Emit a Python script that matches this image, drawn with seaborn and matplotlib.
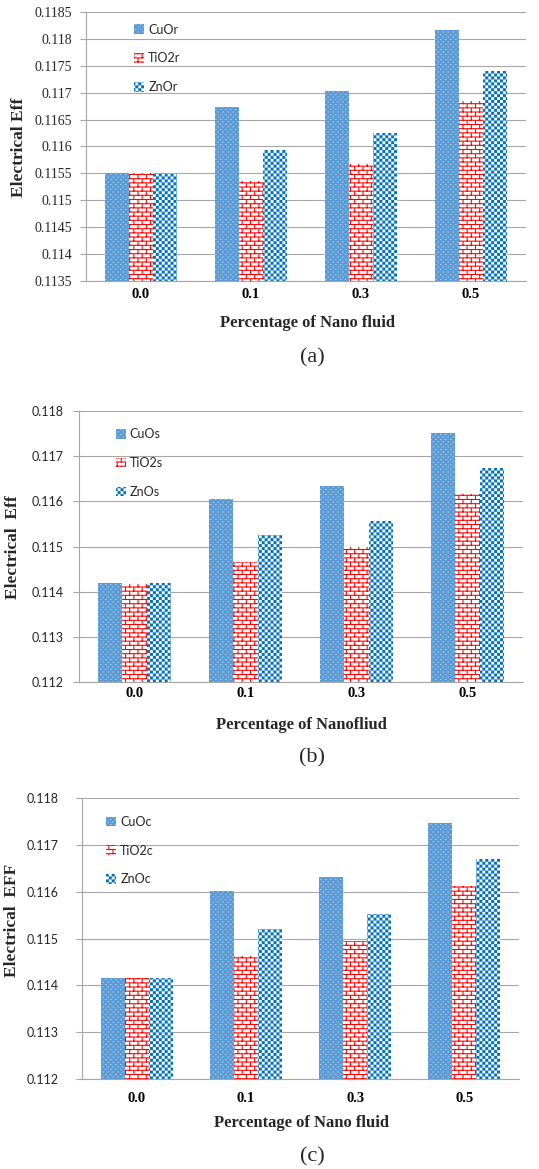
import matplotlib
matplotlib.use("Agg")
import matplotlib.pyplot as plt
import matplotlib.hatch as mhatch
from matplotlib.path import Path
import numpy as np
import pandas as pd
import seaborn as sns

# ---- data ----
categories = ["0.0", "0.1", "0.3", "0.5"]

cuo_r = [0.11550, 0.11674, 0.11704, 0.11817]
tio2_r = [0.11550, 0.11536, 0.11567, 0.11684]
zno_r = [0.11550, 0.11593, 0.11625, 0.11741]

cuo_s = [0.11420, 0.11605, 0.11635, 0.11751]
tio2_s = [0.11418, 0.11466, 0.11499, 0.11616]
zno_s = [0.11420, 0.11526, 0.11556, 0.11674]

cuo_c = [0.11415, 0.11602, 0.11631, 0.11747]
tio2_c = [0.11415, 0.11463, 0.11494, 0.11612]
zno_c = [0.11416, 0.11521, 0.11553, 0.11670]

labels_r = ["CuOr", "TiO2r", "ZnOr"]
labels_s = ["CuOs", "TiO2s", "ZnOs"]
labels_c = ["CuOc", "TiO2c", "ZnOc"]

yticks_a = [0.1135, 0.114, 0.1145, 0.115, 0.1155, 0.116, 0.1165, 0.117, 0.1175, 0.118, 0.1185]
ytick_labels_a = ["0.1135", "0.114", "0.1145", "0.115", "0.1155", "0.116",
                  "0.1165", "0.117", "0.1175", "0.118", "0.1185"]
yticks_bc = [0.112, 0.113, 0.114, 0.115, 0.116, 0.117, 0.118]
ytick_labels_bc = ["0.112", "0.113", "0.114", "0.115", "0.116", "0.117", "0.118"]


# ---- Excel-like fill patterns as custom hatches ----
def rect_hatch(char, rects):
    rects = np.asarray(rects, dtype=float)

    class RectHatch(mhatch.HatchPatternBase):
        def __init__(self, hatch, density):
            self.num_vertices = 5 * len(rects) if char in hatch else 0

        def set_vertices_and_codes(self, vertices, codes):
            x, y, w, h = rects.T
            pts = np.stack([np.c_[x, y], np.c_[x + w, y], np.c_[x + w, y + h],
                            np.c_[x, y + h], np.c_[x, y]], axis=1)
            vertices[:] = pts.reshape(-1, 2)
            codes[:] = np.tile([Path.MOVETO, Path.LINETO, Path.LINETO,
                                Path.LINETO, Path.CLOSEPOLY], len(rects))
    return RectHatch


px = 0.01  # one pixel of the 100 px hatch tile
n = 34
checker = [(i / n, j / n, 1 / n, 1 / n) for i in range(n) for j in range(n) if (i + j) % 2 == 0]
rows, k = 24, 12
bricks = [(0, r / rows, 1, px) for r in range(rows)]
bricks += [(c / k + (0.5 / k if r % 2 else 0), r / rows, px, 1 / rows)
           for r in range(rows) for c in range(k)]
dots = [(c / 20 + (0.025 if r % 2 else 0), r / 40, 1.5 * px, px)
        for r in range(40) for c in range(20)]

mhatch._hatch_types[:] = [mhatch.HorizontalHatch, mhatch.VerticalHatch,
                          mhatch.NorthEastHatch, mhatch.SouthEastHatch,
                          rect_hatch(".", dots), rect_hatch("O", checker),
                          rect_hatch("*", bricks)]

face_colors = ["#5B9BD5", "white", "white"]
hatch_colors = ["#A9CBEC", "#FF0000", "#0070C0"]
hatches = [".", "*", "O"]

sns.set_theme(style="white")
plt.rcParams["hatch.linewidth"] = 0.05
serif = ["Liberation Serif", "DejaVu Serif"]
sans = ["Lato", "DejaVu Sans"]
grid_c = "#A6A6A6"

W, H = 539, 1169
fig = plt.figure(figsize=(W / 100, H / 100), dpi=100)
fig.patch.set_facecolor("white")

panels = [
    dict(vals=[cuo_r, tio2_r, zno_r], labels=labels_r, box=(86, 12, 526, 281),
         yticks=yticks_a, yticklabels=ytick_labels_a, yfont=serif, ysize=10, ypad=6,
         xpad=5, ylabel="Electrical Eff", ylab_xy=(19, 147),
         xlabel="Percentage of Nano fluid", xlab_xy=(307, 323),
         caption="(a)", cap_xy=(312, 358), leg=(0.11, 0.957)),
    dict(vals=[cuo_s, tio2_s, zno_s], labels=labels_s, box=(79, 411, 523, 682),
         yticks=yticks_bc, yticklabels=ytick_labels_bc, yfont=sans, ysize=9, ypad=7,
         xpad=3.5, ylabel="Electrical  Eff", ylab_xy=(13, 547),
         xlabel="Percentage of Nanofliud", xlab_xy=(301, 725),
         caption="(b)", cap_xy=(312, 758), leg=(0.083, 0.937)),
    dict(vals=[cuo_c, tio2_c, zno_c], labels=labels_c, box=(82, 798, 519, 1079),
         yticks=yticks_bc, yticklabels=ytick_labels_bc, yfont=sans, ysize=9, ypad=13,
         xpad=9, ylabel="Electrical  EFF", ylab_xy=(12, 920),
         xlabel="Percentage of Nano fluid", xlab_xy=(301, 1123),
         caption="(c)", cap_xy=(312, 1157), leg=(0.056, 0.937)),
]

for p in panels:
    l, t, r, b = p["box"]
    ax = fig.add_axes([l / W, 1 - b / H, (r - l) / W, (b - t) / H])

    df = pd.DataFrame({
        "pct": categories * 3,
        "eff": [v for s in p["vals"] for v in s],
        "series": [lab for lab in p["labels"] for _ in categories],
    })
    sns.barplot(data=df, x="pct", y="eff", hue="series", order=categories,
                hue_order=p["labels"], palette=face_colors, saturation=1,
                width=0.66, gap=0, linewidth=0, legend=False, ax=ax)

    for cont, fc, hc, hp in zip(ax.containers, face_colors, hatch_colors, hatches):
        for bar in cont:
            bar.set_facecolor(fc)
            bar.set_edgecolor(hc)
            bar.set_hatch(hp)
            bar.set_linewidth(0)

    ax.set_ylim(p["yticks"][0], p["yticks"][-1])
    ax.set_xlim(-0.5, 3.5)
    ax.set_yticks(p["yticks"])
    ax.set_yticklabels(p["yticklabels"], family=p["yfont"], fontsize=p["ysize"], color="#262626")
    ax.set_xticks(range(len(categories)))
    ax.set_xticklabels(categories, family=serif, fontsize=10.5, fontweight="bold", color="black")
    ax.tick_params(axis="y", length=4, width=0.8, color=grid_c, pad=p["ypad"], left=True)
    ax.tick_params(axis="x", length=0, pad=p["xpad"])
    ax.set_xlabel("")
    ax.set_ylabel("")

    ax.yaxis.grid(True, color=grid_c, linewidth=0.8)
    ax.set_axisbelow(True)
    for side in ["top", "right"]:
        ax.spines[side].set_visible(False)
    for side in ["left", "bottom"]:
        ax.spines[side].set_color(grid_c)
        ax.spines[side].set_linewidth(0.8)

    ax.legend(ax.containers, p["labels"], loc="upper left", bbox_to_anchor=p["leg"],
              frameon=False, borderpad=0, borderaxespad=0, handlelength=0.8,
              handleheight=0.8, handletextpad=0.3, labelspacing=1.35,
              prop=dict(family=sans, size=9))

    fig.text(p["ylab_xy"][0] / W, 1 - p["ylab_xy"][1] / H, p["ylabel"], rotation=90,
             ha="center", va="center", family=serif, fontsize=12.5, fontweight="bold")
    fig.text(p["xlab_xy"][0] / W, 1 - p["xlab_xy"][1] / H, p["xlabel"],
             ha="center", va="center", family=serif, fontsize=12, fontweight="bold")
    fig.text(p["cap_xy"][0] / W, 1 - p["cap_xy"][1] / H, p["caption"],
             ha="center", va="center", family=serif, fontsize=16)

fig.savefig("out.png", dpi=100, facecolor="white")
